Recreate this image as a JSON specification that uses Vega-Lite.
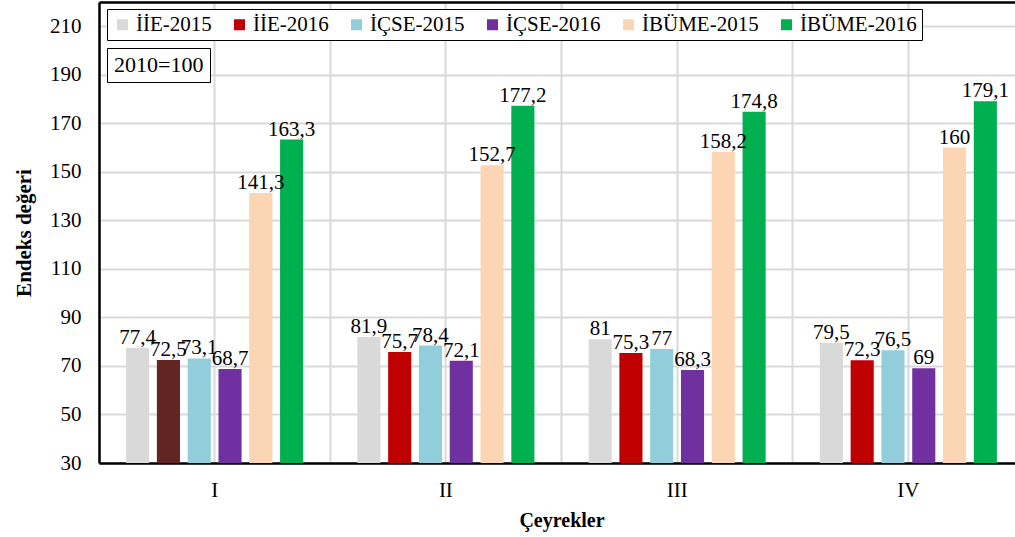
{
  "$schema": "https://vega.github.io/schema/vega-lite/v6.json",
  "width": 916,
  "height": 461,
  "autosize": {"type": "none"},
  "padding": {"left": 99, "top": 2, "right": 0, "bottom": 74},
  "background": "white",
  "config": {
    "font": "Liberation Serif",
    "view": {"stroke": null},
    "locale": {"number": {"decimal": ",", "thousands": ".", "grouping": [3], "currency": ["", " TL"]}}
  },
  "datasets": {
    "main": [
      {"q": "I", "s": "İİE-2015", "v": 77.4},
      {"q": "I", "s": "İİE-2016", "v": 72.5},
      {"q": "I", "s": "İÇSE-2015", "v": 73.1},
      {"q": "I", "s": "İÇSE-2016", "v": 68.7},
      {"q": "I", "s": "İBÜME-2015", "v": 141.3},
      {"q": "I", "s": "İBÜME-2016", "v": 163.3},
      {"q": "II", "s": "İİE-2015", "v": 81.9},
      {"q": "II", "s": "İİE-2016", "v": 75.7},
      {"q": "II", "s": "İÇSE-2015", "v": 78.4},
      {"q": "II", "s": "İÇSE-2016", "v": 72.1},
      {"q": "II", "s": "İBÜME-2015", "v": 152.7},
      {"q": "II", "s": "İBÜME-2016", "v": 177.2},
      {"q": "III", "s": "İİE-2015", "v": 81},
      {"q": "III", "s": "İİE-2016", "v": 75.3},
      {"q": "III", "s": "İÇSE-2015", "v": 77},
      {"q": "III", "s": "İÇSE-2016", "v": 68.3},
      {"q": "III", "s": "İBÜME-2015", "v": 158.2},
      {"q": "III", "s": "İBÜME-2016", "v": 174.8},
      {"q": "IV", "s": "İİE-2015", "v": 79.5},
      {"q": "IV", "s": "İİE-2016", "v": 72.3},
      {"q": "IV", "s": "İÇSE-2015", "v": 76.5},
      {"q": "IV", "s": "İÇSE-2016", "v": 69},
      {"q": "IV", "s": "İBÜME-2015", "v": 160},
      {"q": "IV", "s": "İBÜME-2016", "v": 179.1}
    ],
    "note": [{"note": "2010=100"}]
  },
  "layer": [
    {
      "data": {"name": "main"},
      "mark": {"type": "bar", "clip": true},
      "encoding": {
        "x": {
          "field": "q", "type": "nominal", "sort": ["I", "II", "III", "IV"],
          "scale": {"range": [0, 925], "paddingInner": 0, "paddingOuter": 0},
          "axis": {
            "orient": "bottom", "labelAngle": 0, "ticks": false,
            "grid": true, "gridColor": "#d9d9d9", "gridWidth": 2,
            "domain": true, "domainColor": "black", "domainWidth": 2.5,
            "labelFont": "Liberation Serif", "labelFontSize": 21, "labelColor": "black", "labelPadding": 16,
            "title": "Çeyrekler", "titleFont": "Liberation Serif", "titleFontSize": 20, "titleFontWeight": "bold",
            "titleColor": "black", "titlePadding": 10
          }
        },
        "xOffset": {
          "field": "s", "type": "nominal",
          "sort": ["İİE-2015", "İİE-2016", "İÇSE-2015", "İÇSE-2016", "İBÜME-2015", "İBÜME-2016"],
          "scale": {"paddingInner": 0.25, "paddingOuter": 0.88}
        },
        "y": {
          "field": "v", "type": "quantitative",
          "scale": {"domain": [30, 220], "nice": false, "zero": false},
          "axis": {
            "values": [30, 50, 70, 90, 110, 130, 150, 170, 190, 210],
            "ticks": false, "grid": true, "gridColor": "#d9d9d9", "gridWidth": 2,
            "domain": true, "domainColor": "black", "domainWidth": 2.5,
            "labelFont": "Liberation Serif", "labelFontSize": 21, "labelColor": "black", "labelPadding": 18,
            "title": "Endeks değeri", "titleFont": "Liberation Serif", "titleFontSize": 21, "titleFontWeight": "bold",
            "titleColor": "black", "titlePadding": 15
          }
        },
        "color": {
          "field": "s", "type": "nominal",
          "condition": {"test": "datum.q === 'I' && datum.s === 'İİE-2016'", "value": "#632523"},
          "scale": {
            "domain": ["İİE-2015", "İİE-2016", "İÇSE-2015", "İÇSE-2016", "İBÜME-2015", "İBÜME-2016"],
            "range": ["#d9d9d9", "#c00000", "#92cddc", "#7030a0", "#fcd5b4", "#00b050"]
          },
          "legend": {
            "orient": "none", "legendX": 8, "legendY": 7, "direction": "horizontal",
            "title": null, "symbolType": "square", "symbolSize": 121, "symbolStrokeWidth": 0,
            "labelFont": "Liberation Serif", "labelFontSize": 21, "labelColor": "black",
            "labelOffset": 3, "columnPadding": 17, "padding": 5,
            "strokeColor": "black", "fillColor": "white"
          }
        }
      }
    },
    {
      "data": {"name": "main"},
      "mark": {"type": "text", "baseline": "alphabetic", "dy": -4, "font": "Liberation Serif", "fontSize": 21, "color": "black"},
      "encoding": {
        "x": {
          "field": "q", "type": "nominal", "sort": ["I", "II", "III", "IV"],
          "axis": {
            "orient": "top", "labels": false, "ticks": false, "title": null, "bandPosition": 0,
            "grid": true, "gridColor": "#d9d9d9", "gridWidth": 2,
            "domain": true, "domainColor": "black", "domainWidth": 2.5
          }
        },
        "xOffset": {
          "field": "s", "type": "nominal",
          "sort": ["İİE-2015", "İİE-2016", "İÇSE-2015", "İÇSE-2016", "İBÜME-2015", "İBÜME-2016"]
        },
        "y": {"field": "v", "type": "quantitative"},
        "text": {"field": "v", "type": "quantitative", "format": ".1~f"}
      }
    },
    {
      "data": {"name": "note"},
      "mark": {"type": "point", "opacity": 0},
      "encoding": {
        "shape": {
          "field": "note", "type": "nominal",
          "legend": {
            "orient": "none", "legendX": 8, "legendY": 46, "title": null,
            "symbolSize": 0, "symbolOpacity": 0, "labelOffset": -21,
            "labelFont": "Liberation Serif", "labelFontSize": 22, "labelColor": "black",
            "padding": 6, "strokeColor": "black", "fillColor": "white"
          }
        }
      }
    }
  ],
  "resolve": {"axis": {"x": "independent"}}
}
